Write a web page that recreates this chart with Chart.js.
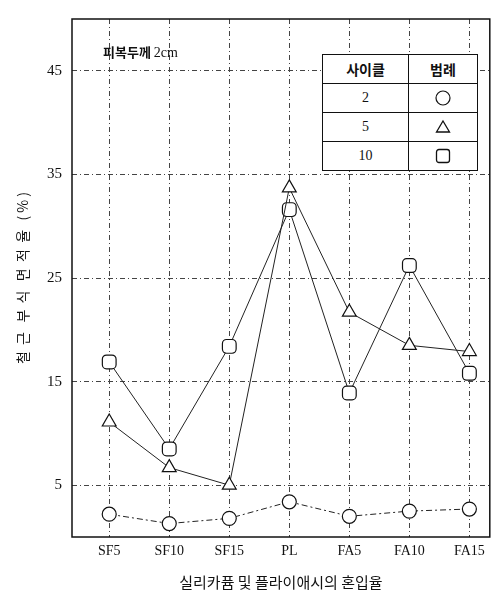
<!DOCTYPE html>
<html>
<head>
<meta charset="utf-8">
<script src="https://cdn.jsdelivr.net/npm/chart.js@4"></script>
<style>
  html, body { margin: 0; padding: 0; background: #fff; }
  #wrap { position: relative; width: 499px; height: 591px; }
  #note { position: absolute; left: 103px; top: 42px; font: bold 13px "Noto Sans CJK KR", sans-serif; color: #111; }
  #note span { font-family: "Liberation Serif", serif; font-weight: normal; font-size: 14px; }
  #legend { position: absolute; left: 322px; top: 54px; border-collapse: collapse; background: #fff;
            font: 14px "Liberation Serif", serif; color: #111; }
  #legend td { border: 1.5px solid #111; height: 28px; text-align: center; padding: 0; }
  #legend td.k { width: 85px; }
  #legend td.m { width: 68px; }
  #legend svg { display: block; margin: 0 auto; }
  #legend tr.h td { font: bold 14px "Noto Sans CJK KR", sans-serif; }
</style>
</head>
<body>
<div id="wrap">
  <canvas id="chart" width="499" height="591"></canvas>
  <div id="note">피복두께 <span>2cm</span></div>
  <table id="legend">
    <tr class="h"><td class="k">사이클</td><td class="m">범례</td></tr>
    <tr><td class="k">2</td><td class="m"><svg width="18" height="18"><circle cx="9" cy="9" r="7" fill="none" stroke="#111" stroke-width="1.2"/></svg></td></tr>
    <tr><td class="k">5</td><td class="m"><svg width="18" height="18"><polygon points="9,3 15.5,14 2.5,14" fill="none" stroke="#111" stroke-width="1.3"/></svg></td></tr>
    <tr><td class="k">10</td><td class="m"><svg width="18" height="18"><rect x="2.5" y="2.5" width="13" height="13" rx="2.5" fill="none" stroke="#111" stroke-width="1.3"/></svg></td></tr>
  </table>
</div>
<script>
// 혼입율 구분
const categories = ['SF5', 'SF10', 'SF15', 'PL', 'FA5', 'FA10', 'FA15'];
// 사이클별 철근 부식 면적율 (%)
const cycle2  = [2.2, 1.3, 1.8, 3.4, 2.0, 2.5, 2.7];
const cycle5  = [11.1, 6.7, 5.0, 33.7, 21.7, 18.5, 17.9];
const cycle10 = [16.9, 8.5, 18.4, 31.6, 13.9, 26.2, 15.8];
const yTicks  = [5, 15, 25, 35, 45];

const pts = arr => arr.map((v, i) => ({ x: i + 1, y: v }));
const serif = '"Liberation Serif", "DejaVu Serif", serif';
const kr = '"Noto Sans CJK KR", sans-serif';
const gridDash = [5, 3, 1, 3];

// 외곽 테두리
const frame = {
  id: 'frame',
  afterDraw(chart) {
    const { ctx, chartArea: a } = chart;
    ctx.save();
    ctx.strokeStyle = '#111';
    ctx.lineWidth = 1.5;
    ctx.strokeRect(a.left, a.top, a.right - a.left, a.bottom - a.top);
    ctx.restore();
  }
};

const mk = (label, data, style, r, dash) => ({
  label, data: pts(data),
  borderColor: '#222', borderWidth: 1, borderDash: dash || [],
  pointStyle: style, pointRadius: r, pointHoverRadius: r,
  pointBackgroundColor: '#fff', pointBorderColor: '#111', pointBorderWidth: 1.2,
  tension: 0
});

new Chart(document.getElementById('chart'), {
  type: 'line',
  data: {
    datasets: [
      mk('2', cycle2, 'circle', 7, [6, 3, 2, 3]),
      mk('5', cycle5, 'triangle', 8),
      mk('10', cycle10, 'rectRounded', 8)
    ]
  },
  options: {
    responsive: false,
    animation: false,
    layout: { padding: { top: 9, right: 2, left: 0, bottom: 0 } },
    plugins: { legend: { display: false }, tooltip: { enabled: false } },
    scales: {
      x: {
        type: 'linear', min: 0.38, max: 7.34,
        afterBuildTicks: s => { s.ticks = categories.map((c, i) => ({ value: i + 1 })); },
        afterFit: s => { s.height = 54; },
        border: { display: false, dash: gridDash },
        grid: { color: '#444', lineWidth: 1, drawTicks: false },
        ticks: { color: '#111', font: { family: serif, size: 14 }, padding: 6,
                 callback: v => categories[v - 1] },
        title: { display: true, text: '실리카퓸 및 플라이애시의 혼입율', color: '#111',
                 font: { family: kr, size: 15 }, padding: { top: 4, bottom: 0 } }
      },
      y: {
        min: 0, max: 50,
        afterBuildTicks: s => { s.ticks = yTicks.map(v => ({ value: v })); },
        afterFit: s => { s.width = 72; },
        border: { display: false, dash: gridDash },
        grid: { color: '#444', lineWidth: 1, drawTicks: false },
        ticks: { color: '#111', font: { family: serif, size: 15 }, padding: 10 },
        title: { display: true, text: '철  근   부  식   면  적  율   ( % )', color: '#111',
                 font: { family: kr, size: 14 }, padding: { top: 14, bottom: 8 } }
      }
    }
  },
  plugins: [frame]
});
</script>
</body>
</html>
